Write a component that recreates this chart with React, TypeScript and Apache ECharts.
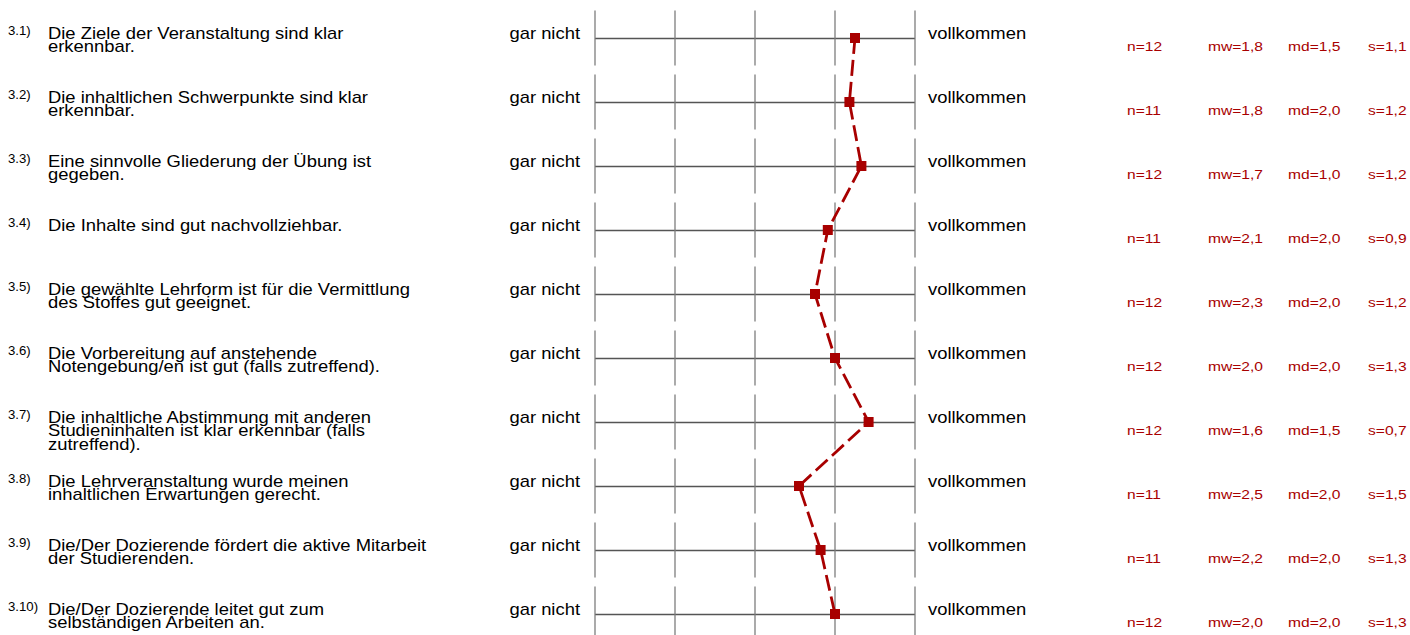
import React, { useEffect, useRef } from "react";
import * as echarts from "echarts";

const itemNumbers = ["3.1)", "3.2)", "3.3)", "3.4)", "3.5)", "3.6)", "3.7)", "3.8)", "3.9)", "3.10)"];
const questions = [
  "Die Ziele der Veranstaltung sind klar\nerkennbar.",
  "Die inhaltlichen Schwerpunkte sind klar\nerkennbar.",
  "Eine sinnvolle Gliederung der Übung ist\ngegeben.",
  "Die Inhalte sind gut nachvollziehbar.",
  "Die gewählte Lehrform ist für die Vermittlung\ndes Stoffes gut geeignet.",
  "Die Vorbereitung auf anstehende\nNotengebung/en ist gut (falls zutreffend).",
  "Die inhaltliche Abstimmung mit anderen\nStudieninhalten ist klar erkennbar (falls\nzutreffend).",
  "Die Lehrveranstaltung wurde meinen\ninhaltlichen Erwartungen gerecht.",
  "Die/Der Dozierende fördert die aktive Mitarbeit\nder Studierenden.",
  "Die/Der Dozierende leitet gut zum\nselbständigen Arbeiten an.",
];
const leftLabel = "gar nicht";
const rightLabel = "vollkommen";
const scaleTicks = [1, 2, 3, 4, 5];
const profileValues = [1.75, 1.82, 1.67, 2.09, 2.25, 2.0, 1.58, 2.45, 2.18, 2.0];
const nValues = [12, 11, 12, 11, 12, 12, 12, 11, 11, 12];
const mwValues = [1.8, 1.8, 1.7, 2.1, 2.3, 2.0, 1.6, 2.5, 2.2, 2.0];
const mdValues = [1.5, 2.0, 1.0, 2.0, 2.0, 2.0, 1.5, 2.0, 2.0, 2.0];
const sValues = [1.1, 1.2, 1.2, 0.9, 1.2, 1.3, 0.7, 1.5, 1.3, 1.3];

const FONT = '"Liberation Sans", Arial, Helvetica, sans-serif';
const RED = "#a80000";
const SX = 1.15;

const fmt = (v: number) => v.toFixed(1).replace(".", ",");

export default function App() {
  const ref = useRef<HTMLDivElement>(null);
  useEffect(() => {
    document.body.style.margin = "0";
    if (!ref.current) return;
    const chart = echarts.init(ref.current, null, { renderer: "svg" });
    const rows = questions.map((_, i) => i);
    const segData: number[][] = [];
    rows.forEach((r) => scaleTicks.forEach((t) => segData.push([t, r])));
    chart.setOption({
      animation: false,
      grid: { left: 595, right: 495, top: 38, bottom: 21 },
      xAxis: {
        type: "value",
        min: 1,
        max: 5,
        inverse: true,
        show: false,
      },
      yAxis: {
        type: "value",
        min: 0,
        max: rows.length - 1,
        interval: 1,
        inverse: true,
        axisLine: { show: false },
        axisTick: { show: false },
        axisLabel: { show: false },
        splitLine: { show: true, lineStyle: { color: "#555555", width: 1.3 } },
      },
      series: [
        {
          type: "scatter",
          data: segData,
          symbol: "rect",
          symbolSize: [1.6, 55],
          itemStyle: { color: "#7a7a7a" },
          silent: true,
          z: 1,
        },
        {
          type: "line",
          data: profileValues.map((v, i) => [v, i]),
          symbol: "rect",
          symbolSize: 10,
          lineStyle: { color: RED, width: 2.8, type: [16, 6] },
          itemStyle: { color: RED },
          z: 5,
        },
      ],
    });

    const graphics: any[] = [];
    rows.forEach((i) => {
      const y = chart.convertToPixel({ yAxisIndex: 0 }, i) as number;
      const xLeft = chart.convertToPixel({ xAxisIndex: 0 }, 5) as number;
      const xRight = chart.convertToPixel({ xAxisIndex: 0 }, 1) as number;
      graphics.push({
        type: "text",
        x: 8,
        y: y - 7,
        scaleX: 1.1,
        style: { text: itemNumbers[i], font: `12px ${FONT}`, fill: "#000", verticalAlign: "middle", align: "left" },
      });
      graphics.push({
        type: "text",
        x: 48,
        y: y - 11.5,
        scaleX: SX,
        style: { text: questions[i], font: `16px ${FONT}`, lineHeight: 13.5, fill: "#000", verticalAlign: "top", align: "left" },
      });
      graphics.push({
        type: "text",
        x: xLeft - 15,
        y: y - 5,
        scaleX: SX,
        style: { text: leftLabel, font: `16px ${FONT}`, fill: "#000", verticalAlign: "middle", align: "right" },
      });
      graphics.push({
        type: "text",
        x: xRight + 13,
        y: y - 5,
        scaleX: SX,
        style: { text: rightLabel, font: `16px ${FONT}`, fill: "#000", verticalAlign: "middle", align: "left" },
      });
      const stats = [
        [1127, `n=${nValues[i]}`],
        [1208, `mw=${fmt(mwValues[i])}`],
        [1288, `md=${fmt(mdValues[i])}`],
        [1368, `s=${fmt(sValues[i])}`],
      ];
      stats.forEach(([x, t]) => {
        graphics.push({
          type: "text",
          x: x as number,
          y: y + 8,
          scaleX: 1.2,
          style: { text: t as string, font: `13px ${FONT}`, fill: RED, verticalAlign: "middle", align: "left" },
        });
      });
    });
    chart.setOption({ graphic: graphics });
    return () => chart.dispose();
  }, []);
  return <div ref={ref} style={{ width: 1410, height: 635 }} />;
}
